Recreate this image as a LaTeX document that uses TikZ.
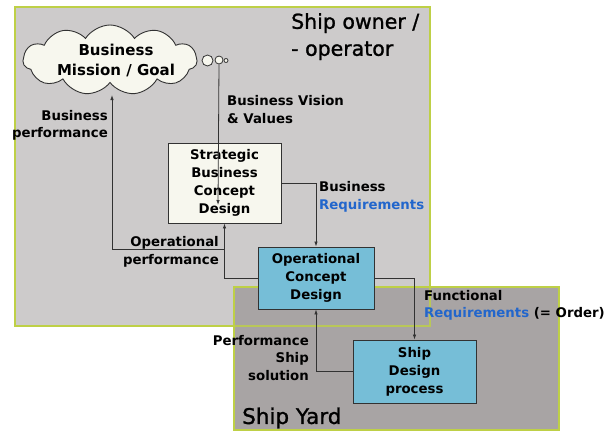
\documentclass[tikz,border=0pt]{standalone}
\usepackage{fontspec}
\setmainfont{DejaVu Sans}
\newfontfamily\titlefont[FakeBold=1.2]{DejaVu Sans}
\usetikzlibrary{arrows.meta,shapes.symbols}
\definecolor{ownerfill}{RGB}{205,203,203}
\definecolor{yardfill}{RGB}{168,164,164}
\definecolor{edgegreen}{RGB}{190,208,70}
\definecolor{boxblue}{RGB}{118,190,215}
\definecolor{cream}{RGB}{247,247,238}
\definecolor{reqblue}{RGB}{34,102,204}
\definecolor{linegray}{RGB}{50,50,50}
\tikzset{
  lbl/.style={font=\bfseries\fontsize{13.3}{17.5}\selectfont, inner sep=0pt},
  titlelbl/.style={font=\titlefont\fontsize{20.5}{27}\selectfont, inner sep=0pt, anchor=north west, align=left},
  procbox/.style={draw=linegray, line width=0.9pt, inner sep=0pt, align=center,
     font=\bfseries\fontsize{13.3}{18}\selectfont},
  conn/.style={draw=linegray, line width=0.8pt, -{Latex[length=5pt,width=3.5pt]}},
  bubble/.style={circle, draw=linegray, line width=0.8pt, fill=cream, inner sep=0pt},
}
\begin{document}
\begin{tikzpicture}[x=1pt,y=-1pt]
\useasboundingbox (0,0) rectangle (607,432);
% areas
\fill[ownerfill] (15,7) rectangle (430,326);
\draw[edgegreen, line width=1.5pt] (15,7) rectangle (430,326);
\fill[yardfill] (234,287) rectangle (559,430);
\draw[edgegreen, line width=1.5pt] (234,287) rectangle (559,430);
\draw[edgegreen, line width=1.2pt, opacity=0.8] (234,326) -- (430,326) -- (430,287);
\node[titlelbl] (owner) at (291,13) {Ship owner /\\- operator};
\node[titlelbl, anchor=west, font=\titlefont\fontsize{21.5}{27}\selectfont] (yard) at (242,418) {Ship Yard};
% cloud and bubbles
\node[cloud, cloud puffs=11, cloud puff arc=115, aspect=2.5, draw=linegray, line width=0.9pt,
      fill=cream, minimum width=174pt, minimum height=70pt, inner sep=0pt] (cloud) at (110,60) {};
\node[font=\bfseries\fontsize{15}{20}\selectfont, align=center, inner sep=0pt] (cloudtxt) at (116,60) {Business\\Mission / Goal};
\node[bubble, minimum size=11pt] (b1) at (207.5,60.5) {};
\node[bubble, minimum size=8pt] (b2) at (219,60) {};
\node[bubble, minimum size=4pt] (b3) at (226,60.5) {};
% process boxes
\node[procbox, fill=cream, minimum width=113pt, minimum height=80pt] (strat) at (224.5,183)
  {Strategic\\Business\\Concept\\Design};
\node[procbox, fill=boxblue, minimum width=116pt, minimum height=62pt] (op) at (316,278)
  {Operational\\Concept\\Design};
\node[procbox, fill=boxblue, minimum width=123pt, minimum height=63pt] (ship) at (414.5,371.5)
  {Ship\\Design\\process};
% labels
\node[lbl, anchor=east, align=right] (bperf) at (108,125.5) {Business\\performance};
\node[lbl, anchor=west, align=left] (bvis) at (227,109.5) {Business Vision\\\& Values};
\node[lbl, anchor=west, align=left] (breq) at (319,197) {Business\\\textcolor{reqblue}{Requirements}};
\node[lbl, anchor=east, align=right] (operf) at (219,252) {Operational\\performance};
\node[lbl, anchor=west, align=left] (freq) at (424,305.5) {Functional\\\textcolor{reqblue}{Requirements} (= Order)};
\node[lbl, anchor=east, align=right] (psol) at (309,358) {Performance\\Ship\\solution};
% connectors
\coordinate (bvend) at (218,205);
\coordinate (j) at (224,249);
\coordinate (cb) at (112,95);
\draw[conn] (b2.south) -- (bvend);
\draw[conn] (strat.east) -| (op.north);
\draw[conn] (op.west) -| (strat.south);
\draw[conn] (j) -| (cb);
\draw[conn] (op.east) -| (ship.north);
\draw[conn] (ship.west) -| (op.south);
\end{tikzpicture}
\end{document}
